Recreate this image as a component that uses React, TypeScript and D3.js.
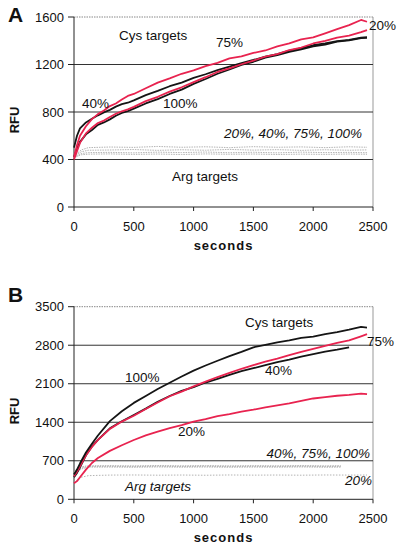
import React from "react";
import * as d3 from "d3";

// ---------- DATA ----------
const timesA = [0, 25, 50, 100, 150, 200, 250, 300, 350, 400, 450, 500, 600, 700, 800, 900, 1000, 1100, 1200, 1300, 1400, 1500, 1600, 1700, 1800, 1900, 2000, 2100, 2200, 2300, 2400, 2450];
const cysA75 = [420, 520, 600, 680, 740, 782, 812, 850, 872, 905, 935, 952, 1000, 1047, 1083, 1122, 1150, 1187, 1213, 1252, 1268, 1297, 1318, 1352, 1378, 1412, 1428, 1462, 1498, 1532, 1575, 1560];
const cysA20 = [400, 470, 540, 620, 668, 707, 728, 758, 785, 806, 822, 843, 892, 928, 972, 1008, 1052, 1093, 1137, 1168, 1202, 1233, 1267, 1288, 1322, 1343, 1377, 1398, 1427, 1443, 1472, 1490];
const cysA40 = [500, 600, 662, 712, 743, 772, 797, 818, 845, 866, 878, 898, 942, 978, 1017, 1048, 1087, 1118, 1152, 1183, 1212, 1238, 1267, 1288, 1317, 1338, 1362, 1378, 1397, 1408, 1427, 1430];
const cysA100 = [420, 490, 548, 612, 648, 692, 712, 738, 768, 792, 808, 828, 872, 908, 952, 988, 1037, 1078, 1122, 1158, 1197, 1223, 1257, 1278, 1307, 1328, 1352, 1368, 1392, 1403, 1422, 1425];

const argTimesA = [0, 60, 120, 300, 500, 700, 900, 1100, 1300, 1500, 1700, 1900, 2100, 2300, 2450];
const argA1 = [430, 480, 500, 505, 502, 510, 503, 507, 500, 508, 503, 506, 500, 507, 503];
const argA2 = [425, 465, 478, 480, 484, 477, 482, 478, 485, 479, 483, 477, 482, 478, 481];
const argA3 = [420, 450, 458, 460, 456, 462, 458, 463, 457, 461, 456, 462, 458, 460, 457];
const argA4 = [415, 440, 445, 447, 443, 446, 442, 447, 444, 446, 442, 445, 443, 446, 444];

const timesB = [0, 25, 50, 100, 150, 200, 300, 400, 500, 600, 700, 800, 900, 1000, 1100, 1200, 1300, 1400, 1500, 1600, 1700, 1800, 1900, 2000, 2100, 2200, 2300, 2400, 2450];
const cysB100 = [450, 540, 650, 850, 1010, 1160, 1420, 1600, 1752, 1878, 2003, 2118, 2232, 2338, 2432, 2518, 2603, 2678, 2762, 2808, 2852, 2888, 2932, 2958, 3002, 3038, 3082, 3132, 3120];
const cysB75 = [420, 500, 600, 800, 950, 1080, 1280, 1412, 1518, 1642, 1758, 1872, 1958, 2052, 2138, 2222, 2298, 2372, 2438, 2502, 2558, 2622, 2678, 2732, 2788, 2842, 2888, 2962, 3000];
const cysB40 = [400, 480, 580, 800, 960, 1080, 1290, 1418, 1532, 1648, 1772, 1878, 1972, 2038, 2122, 2188, 2262, 2328, 2382, 2438, 2492, 2538, 2592, 2638, 2682, 2718, 2760];
const cysB20 = [290, 330, 400, 540, 660, 750, 880, 982, 1078, 1162, 1228, 1292, 1348, 1412, 1458, 1512, 1548, 1592, 1628, 1672, 1708, 1742, 1788, 1832, 1858, 1882, 1898, 1922, 1910];

const argTimesB = [0, 60, 120, 300, 500, 700, 900, 1100, 1300, 1500, 1700, 1900, 2100, 2230];
const argB1 = [500, 590, 610, 612, 608, 614, 609, 613, 608, 612, 609, 613, 608, 611];
const argB2 = [470, 570, 596, 598, 594, 600, 595, 599, 594, 598, 595, 600, 596, 597];
const argB3 = [440, 550, 585, 586, 583, 588, 584, 587, 583, 586, 584, 588, 583, 585];
const argTimesB20 = [0, 60, 120, 300, 500, 700, 900, 1100, 1300, 1500, 1700, 1900, 2100, 2300, 2450];
const argB20 = [300, 400, 430, 440, 442, 438, 441, 437, 442, 439, 441, 438, 442, 440, 441];

const xTicks = [0, 500, 1000, 1500, 2000, 2500];
const yTicksA = [0, 400, 800, 1200, 1600];
const yTicksB = [0, 700, 1400, 2100, 2800, 3500];

const RED = "#e8234f";
const BLACK = "#151515";
const GREY = "#b4b4b4";
const FONT = "'Liberation Sans', Arial, sans-serif";

type Series = { t: number[]; v: number[]; color: string; width: number; dash?: string };
type Label = { x: number; y: number; text: string; italic?: boolean; anchor?: string };

function Panel(props: {
  letter: string;
  top: number;
  bottom: number;
  yMax: number;
  yTicks: number[];
  series: Series[];
  labels: Label[];
  xLabelY: number;
  titleY: number;
  letterY: number;
}) {
  const left = 74;
  const right = 373;
  const x = d3.scaleLinear().domain([0, 2500]).range([left, right]);
  const y = d3.scaleLinear().domain([0, props.yMax]).range([props.bottom, props.top]);
  const mk = (s: Series) =>
    d3
      .line<number>()
      .x((_, i) => x(s.t[i]))
      .y((d) => y(d))(s.v) as string;
  return (
    <g fontFamily={FONT}>
      <text x={8} y={props.letterY} fontSize={21} fontWeight="bold" fill="#111">
        {props.letter}
      </text>
      {/* plot border */}
      <line x1={left} x2={right} y1={props.top} y2={props.top} stroke="#888" strokeWidth={1} strokeDasharray="1.5 1" />
      <line x1={right} x2={right} y1={props.top} y2={props.bottom} stroke="#999" strokeWidth={1} />
      {/* grid */}
      {props.yTicks.slice(1, -1).map((t) => (
        <line key={t} x1={left} x2={right} y1={y(t)} y2={y(t)} stroke="#333" strokeWidth={1} />
      ))}
      {/* axes */}
      <line x1={left} x2={left} y1={props.top} y2={props.bottom} stroke="#222" strokeWidth={1} />
      <line x1={left} x2={right} y1={props.bottom} y2={props.bottom} stroke="#222" strokeWidth={1} />
      {props.yTicks.map((t) => (
        <g key={t}>
          <line x1={left - 6} x2={left} y1={y(t)} y2={y(t)} stroke="#222" strokeWidth={1} />
          <text x={64} y={y(t) + 4.5} fontSize={13} textAnchor="end" fill="#111">
            {t}
          </text>
        </g>
      ))}
      {xTicks.map((t) => (
        <g key={t}>
          <line x1={x(t)} x2={x(t)} y1={props.bottom} y2={props.bottom + 4} stroke="#222" strokeWidth={1} />
          <text x={x(t)} y={props.xLabelY} fontSize={13} textAnchor="middle" fill="#111">
            {t}
          </text>
        </g>
      ))}
      <text x={(left + right) / 2} y={props.titleY} fontSize={13} fontWeight="bold" textAnchor="middle" letterSpacing={1} fill="#111">
        seconds
      </text>
      <text
        transform={`translate(${19},${(props.top + props.bottom) / 2 + 8}) rotate(-90)`}
        fontSize={13}
        fontWeight="bold"
        textAnchor="middle"
        fill="#111"
      >
        RFU
      </text>
      {props.series.map((s, i) => (
        <path key={i} d={mk(s)} fill="none" stroke={s.color} strokeWidth={s.width} strokeDasharray={s.dash} strokeLinejoin="round" />
      ))}
      {props.labels.map((l, i) => (
        <text key={i} x={l.x} y={l.y} fontSize={13.5} fontStyle={l.italic ? "italic" : "normal"} textAnchor={l.anchor || "start"} fill="#111">
          {l.text}
        </text>
      ))}
    </g>
  );
}

export default function App() {
  const seriesA: Series[] = [
    { t: argTimesA, v: argA1, color: GREY, width: 1, dash: "1.5 1" },
    { t: argTimesA, v: argA2, color: GREY, width: 1, dash: "1.5 1" },
    { t: argTimesA, v: argA3, color: GREY, width: 1, dash: "1.5 1" },
    { t: argTimesA, v: argA4, color: GREY, width: 1, dash: "1.5 1" },
    { t: timesA, v: cysA100, color: BLACK, width: 1.8 },
    { t: timesA, v: cysA40, color: BLACK, width: 1.8 },
    { t: timesA, v: cysA20, color: RED, width: 1.8 },
    { t: timesA, v: cysA75, color: RED, width: 1.8 },
  ];
  const labelsA: Label[] = [
    { x: 119, y: 40, text: "Cys targets" },
    { x: 216, y: 47, text: "75%" },
    { x: 369, y: 30, text: "20%" },
    { x: 82, y: 108, text: "40%" },
    { x: 163, y: 108, text: "100%" },
    { x: 362, y: 138, text: "20%, 40%, 75%, 100%", italic: true, anchor: "end" },
    { x: 172, y: 181, text: "Arg  targets" },
  ];
  const seriesB: Series[] = [
    { t: argTimesB, v: argB1, color: GREY, width: 1, dash: "1.5 1" },
    { t: argTimesB, v: argB2, color: GREY, width: 1, dash: "1.5 1" },
    { t: argTimesB, v: argB3, color: GREY, width: 1, dash: "1.5 1" },
    { t: argTimesB20, v: argB20, color: GREY, width: 1, dash: "1.5 1.5" },
    { t: timesB, v: cysB20, color: RED, width: 1.8 },
    { t: timesB.slice(0, cysB40.length), v: cysB40, color: BLACK, width: 1.8 },
    { t: timesB, v: cysB75, color: RED, width: 1.8 },
    { t: timesB, v: cysB100, color: BLACK, width: 1.8 },
  ];
  const labelsB: Label[] = [
    { x: 245, y: 327, text: "Cys targets" },
    { x: 367, y: 346, text: "75%" },
    { x: 125, y: 382, text: "100%" },
    { x: 265, y: 375, text: "40%" },
    { x: 178, y: 436, text: "20%" },
    { x: 370, y: 458, text: "40%, 75%, 100%", italic: true, anchor: "end" },
    { x: 372, y: 485, text: "20%", italic: true, anchor: "end" },
    { x: 125, y: 491, text: "Arg targets", italic: true },
  ];
  return (
    <svg width={400} height={550} style={{ position: "absolute", left: 0, top: 0, background: "#fff" }}>
      <rect width={400} height={550} fill="#fff" />
      <Panel letter="A" top={17} bottom={207} yMax={1600} yTicks={yTicksA} series={seriesA} labels={labelsA} xLabelY={231} titleY={249.5} letterY={22} />
      <Panel letter="B" top={306.7} bottom={499.3} yMax={3500} yTicks={yTicksB} series={seriesB} labels={labelsB} xLabelY={523} titleY={541.5} letterY={302} />
    </svg>
  );
}
